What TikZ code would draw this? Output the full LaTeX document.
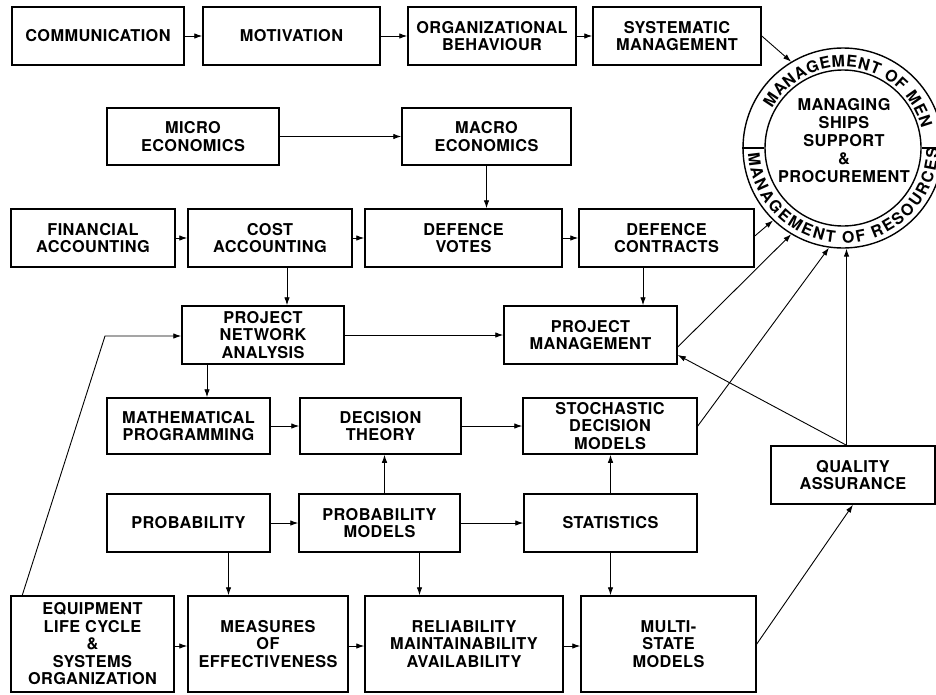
\documentclass[tikz,border=0pt]{standalone}
\usepackage{fontspec}
\setmainfont{TeX Gyre Heros}[LetterSpace=2.5]
\usetikzlibrary{arrows.meta,decorations.text,calc}
\newcommand\mybox[6]{\node[box, minimum width={#4-#2}, minimum height={#5-#3}] (#1) at ({(#2+#4)/2},{(#3+#5)/2}) {#6};}
\begin{document}
\begin{tikzpicture}[x=1pt,y=-1pt,
  box/.style={draw, line width=1.5pt, align=center, inner sep=0pt, font=\bfseries\fontsize{16.3}{17.5}\selectfont},
  conn/.style={line width=0.9pt, -{Latex[length=8pt,width=5.5pt]}},
  ring/.style={draw, circle, line width=1.4pt, inner sep=0pt}
]
\useasboundingbox (0,0) rectangle (936,694);
% boxes
\mybox{comm}{12}{7}{184}{65}{COMMUNICATION}
\mybox{motiv}{203}{7}{380}{65}{MOTIVATION}
\mybox{org}{408}{7}{576}{65}{ORGANIZATIONAL\\BEHAVIOUR}
\mybox{sys}{593}{7}{761}{65}{SYSTEMATIC\\MANAGEMENT}
\mybox{micro}{107}{108}{279}{165}{MICRO\\ECONOMICS}
\mybox{macro}{402}{108}{571}{165}{MACRO\\ECONOMICS}
\mybox{fin}{11}{209}{175}{267}{FINANCIAL\\ACCOUNTING}
\mybox{cost}{188}{209}{352}{267}{COST\\ACCOUNTING}
\mybox{votes}{365}{209}{562}{267}{DEFENCE\\VOTES}
\mybox{contr}{579}{209}{754}{267}{DEFENCE\\CONTRACTS}
\mybox{pna}{182}{306}{344}{364}{PROJECT\\NETWORK\\ANALYSIS}
\mybox{pm}{504}{306}{677}{364}{PROJECT\\MANAGEMENT}
\mybox{math}{107}{398}{270}{454}{MATHEMATICAL\\PROGRAMMING}
\mybox{dec}{300}{398}{461}{454}{DECISION\\THEORY}
\mybox{stoch}{523}{398}{697}{454}{STOCHASTIC\\DECISION\\MODELS}
\mybox{prob}{107}{494}{270}{552}{PROBABILITY}
\mybox{probm}{299}{494}{460}{552}{PROBABILITY\\MODELS}
\mybox{stats}{524}{494}{697}{552}{STATISTICS}
\mybox{qa}{771}{446}{935}{504}{QUALITY\\ASSURANCE}
\mybox{equip}{11}{596}{174}{692}{EQUIPMENT\\LIFE CYCLE\\\&\\SYSTEMS\\ORGANIZATION}
\mybox{meas}{188}{596}{348}{692}{MEASURES\\OF\\EFFECTIVENESS}
\mybox{rel}{365}{596}{563}{692}{RELIABILITY\\MAINTAINABILITY\\AVAILABILITY}
\mybox{multi}{581}{596}{756}{692}{MULTI-\\STATE\\MODELS}
% circle
\coordinate (cc) at (843,148);
\node[ring, minimum size=200pt] (circ) at (cc) {};
\node[ring, minimum size=156pt] (inner) at (cc) {};
\draw[line width=1.4pt] (circ.west) -- (inner.west);
\draw[line width=1.4pt] (circ.east) -- (inner.east);
\node[align=center, font=\bfseries\fontsize{16.3}{18}\selectfont] (ctext) at (844,141) {MANAGING\\SHIPS\\SUPPORT\\\&\\PROCUREMENT};
\begin{scope}[shift={(cc)}]
\path[decorate, decoration={text effects along path, text={MANAGEMENT OF MEN},
  text effects/.cd, text along path, fit text to path,
  characters={font=\bfseries\fontsize{16}{16}\selectfont}}]
  (151:81pt) arc[start angle=151, end angle=14, radius=81pt];
\path[decorate, decoration={text effects along path, text={MANAGEMENT OF RESOURCES},
  text effects/.cd, text along path, fit text to path,
  characters={font=\bfseries\fontsize{16}{16}\selectfont}}]
  (183:95pt) arc[start angle=183, end angle=360, radius=95pt];
\end{scope}
% connectors
\draw[conn] (comm) -- (motiv);
\draw[conn] (motiv) -- (org);
\draw[conn] (org) -- (sys);
\draw[conn] (sys.east) -- (circ.121);
\draw[conn] (micro) -- (macro);
\draw[conn] (macro.south) -- (macro.south |- votes.north);
\draw[conn] (fin) -- (cost);
\draw[conn] (cost) -- (votes);
\draw[conn] (votes) -- (contr);
\draw[conn] ([xshift=17pt]cost.south) -- ([xshift=17pt]cost.south |- pna.north);
\draw[conn] ([xshift=-23.5pt]contr.south) -- ([xshift=-23.5pt]contr.south |- pm.north);
\draw[conn] ([yshift=2pt]contr.east) -- (circ.226);
\draw[conn] (pna) -- (pm);
\draw[conn] ([xshift=-56pt]pna.south) -- ([xshift=-56pt]pna.south |- math.north);
\coordinate (bend) at (105,336);
\draw[conn] ([xshift=12pt]equip.north west) -- (bend) -- (bend -| pna.west);
\draw[conn] ([yshift=-12pt]pm.east) -- (circ.239);
\draw[conn] (qa.north -| circ.272) -- (circ.272);
\draw[conn] (qa.north -| circ.272) -- ([yshift=-20pt]pm.east);
\draw[conn] (stoch.east) -- (circ.262);
\draw[conn] (math) -- (dec);
\draw[conn] (dec) -- (stoch);
\draw[conn] (prob) -- (probm);
\draw[conn] (probm) -- (stats);
\draw[conn] ([xshift=5pt]probm.north) -- ([xshift=5pt]probm.north |- dec.south);
\draw[conn] (stats.north) -- (stats.north |- stoch.south);
\draw[conn] ([xshift=40pt]prob.south) -- ([xshift=40pt]prob.south |- meas.north);
\draw[conn] ([xshift=40pt]probm.south) -- ([xshift=40pt]probm.south |- rel.north);
\draw[conn] (stats.south) -- (stats.south |- multi.north);
\draw[conn] ([yshift=-2pt]equip.east) -- ([yshift=-2pt]equip.east -| meas.west);
\draw[conn] ([yshift=-2pt]meas.east) -- ([yshift=-2pt]meas.east -| rel.west);
\draw[conn] ([yshift=-2pt]rel.east) -- ([yshift=-2pt]rel.east -| multi.west);
\draw[conn] (multi.east) -- (qa.south);
\end{tikzpicture}
\end{document}
